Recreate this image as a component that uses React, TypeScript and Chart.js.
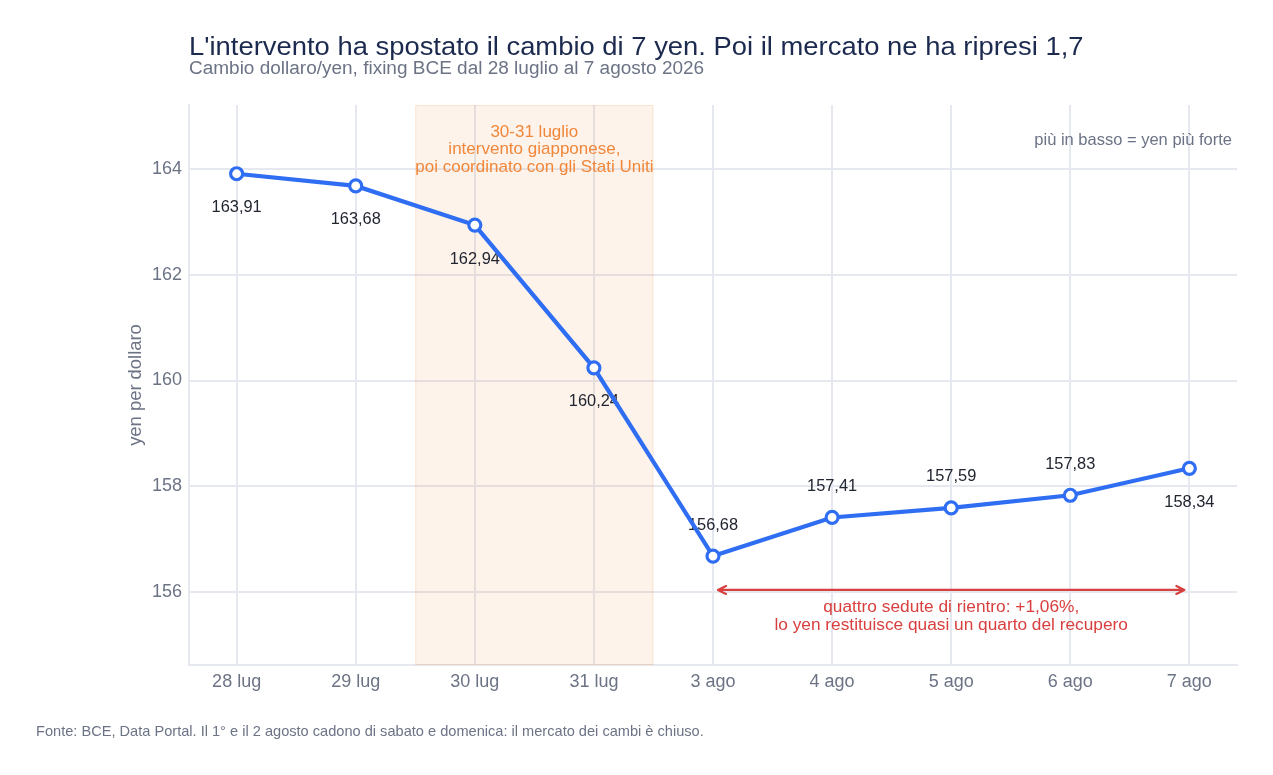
import { useEffect, useRef } from "react";
import { Chart, registerables } from "chart.js";

Chart.register(...registerables);

const W = 1273;
const H = 775;

const labels = ["28 lug", "29 lug", "30 lug", "31 lug", "3 ago", "4 ago", "5 ago", "6 ago", "7 ago"];
const values = [163.91, 163.68, 162.94, 160.24, 156.68, 157.41, 157.59, 157.83, 158.34];
const labelAbove = [false, false, false, false, true, true, true, true, false];
const yTicks = [156, 158, 160, 162, 164];

const TITLE = "L'intervento ha spostato il cambio di 7 yen. Poi il mercato ne ha ripresi 1,7";
const SUBTITLE = "Cambio dollaro/yen, fixing BCE dal 28 luglio al 7 agosto 2026";
const FOOTNOTE = "Fonte: BCE, Data Portal. Il 1° e il 2 agosto cadono di sabato e domenica: il mercato dei cambi è chiuso.";
const BAND_TEXT = ["30-31 luglio", "intervento giapponese,", "poi coordinato con gli Stati Uniti"];
const ARROW_TEXT = ["quattro sedute di rientro: +1,06%,", "lo yen restituisce quasi un quarto del recupero"];
const CORNER_NOTE = "più in basso = yen più forte";

const FONT = "'Liberation Sans', Arial, Helvetica, sans-serif";
const BLUE = "#2f6ef2";
const ORANGE = "#f0873a";
const RED = "#d8403f";
const GRID = "#e6e8f0";
const MUTED = "#6b7385";

// text a bit wider than Liberation Sans at the same height
function wideText(ctx: CanvasRenderingContext2D, text: string, x: number, y: number, size: number, sx: number) {
  ctx.save();
  ctx.translate(x, y);
  ctx.scale(sx, 1);
  ctx.font = `${size}px ${FONT}`;
  ctx.fillText(text, 0, 0);
  ctx.restore();
}

const overlay = {
  id: "overlay",
  beforeDatasetsDraw(chart: Chart) {
    const { ctx, chartArea } = chart;
    const x = chart.scales.x;
    // intervention band 30-31 luglio
    const x0 = x.getPixelForValue(1.5);
    const x1 = x.getPixelForValue(3.5);
    ctx.save();
    ctx.fillStyle = "rgba(240,135,58,0.10)";
    ctx.fillRect(x0, chartArea.top, x1 - x0, chartArea.bottom - chartArea.top);
    ctx.strokeStyle = "rgba(240,135,58,0.16)";
    ctx.lineWidth = 1;
    ctx.strokeRect(x0 + 0.5, chartArea.top + 0.5, x1 - x0 - 1, chartArea.bottom - chartArea.top - 1);

    // data labels sit under the line
    const meta = chart.getDatasetMeta(0);
    ctx.textAlign = "center";
    ctx.textBaseline = "middle";
    ctx.font = `16.4px ${FONT}`;
    ctx.fillStyle = "#222631";
    meta.data.forEach((pt, i) => {
      const dy = labelAbove[i] ? -31 : 34;
      ctx.fillText(values[i].toFixed(2).replace(".", ","), pt.x, pt.y + dy);
    });
    ctx.restore();
  },
  afterDraw(chart: Chart) {
    const { ctx, chartArea } = chart;
    const x = chart.scales.x;
    const y = chart.scales.y;
    ctx.save();

    // title block
    ctx.textBaseline = "alphabetic";
    ctx.textAlign = "left";
    ctx.fillStyle = "#1c2a4f";
    wideText(ctx, TITLE, 189, 54.5, 25.8, 1.062);
    ctx.fillStyle = MUTED;
    wideText(ctx, SUBTITLE, 189, 73.5, 18, 1.055);
    ctx.font = `14.6px ${FONT}`;
    ctx.fillText(FOOTNOTE, 36, 736);

    // y axis title
    ctx.save();
    ctx.translate(136, (chartArea.top + chartArea.bottom) / 2);
    ctx.rotate(-Math.PI / 2);
    ctx.textAlign = "center";
    ctx.textBaseline = "middle";
    ctx.font = `18.4px ${FONT}`;
    ctx.fillStyle = MUTED;
    ctx.fillText("yen per dollaro", 0, 0);
    ctx.restore();

    // corner note
    ctx.textAlign = "right";
    ctx.textBaseline = "middle";
    ctx.font = `16.5px ${FONT}`;
    ctx.fillStyle = MUTED;
    ctx.fillText(CORNER_NOTE, chartArea.right - 5, 140);

    // band text
    ctx.textAlign = "center";
    ctx.fillStyle = ORANGE;
    ctx.font = `17px ${FONT}`;
    const bx = (x.getPixelForValue(1.5) + x.getPixelForValue(3.5)) / 2;
    BAND_TEXT.forEach((t, i) => ctx.fillText(t, bx, 132 + i * 17.5));

    // arrow 3 ago -> 7 ago
    const ay = y.getPixelForValue(156.04);
    const ax0 = x.getPixelForValue(4) + 5;
    const ax1 = x.getPixelForValue(8) - 5;
    ctx.strokeStyle = RED;
    ctx.lineWidth = 2.2;
    ctx.lineJoin = "round";
    ctx.lineCap = "round";
    ctx.beginPath();
    ctx.moveTo(ax0, ay);
    ctx.lineTo(ax1, ay);
    ctx.moveTo(ax0 + 8, ay - 4);
    ctx.lineTo(ax0, ay);
    ctx.lineTo(ax0 + 8, ay + 4);
    ctx.moveTo(ax1 - 8, ay - 4);
    ctx.lineTo(ax1, ay);
    ctx.lineTo(ax1 - 8, ay + 4);
    ctx.stroke();
    ctx.fillStyle = RED;
    ctx.font = `17.3px ${FONT}`;
    const tx = (ax0 + ax1) / 2;
    ARROW_TEXT.forEach((t, i) => ctx.fillText(t, tx, ay + 17 + i * 18));

    ctx.restore();
  },
};

export default function App() {
  const canvasRef = useRef<HTMLCanvasElement>(null);

  useEffect(() => {
    document.body.style.margin = "0";
    const canvas = canvasRef.current;
    if (!canvas) return;
    const chart = new Chart(canvas, {
      type: "line",
      data: {
        datasets: [
          {
            data: values.map((v, i) => ({ x: i, y: v })),
            borderColor: BLUE,
            borderWidth: 4.2,
            pointRadius: 6,
            pointBorderWidth: 3.2,
            pointBackgroundColor: "#ffffff",
            pointBorderColor: BLUE,
            tension: 0,
          },
        ],
      },
      options: {
        animation: false,
        responsive: false,
        maintainAspectRatio: false,
        layout: { padding: { left: 0, right: 36, top: 105, bottom: 0 } },
        plugins: { legend: { display: false }, tooltip: { enabled: false }, title: { display: false } },
        scales: {
          x: {
            type: "linear",
            min: -0.4,
            max: 8.4,
            afterFit: (s: any) => { s.height = 110; },
            afterBuildTicks: (s: any) => { s.ticks = labels.map((_, i) => ({ value: i })); },
            grid: { color: GRID, lineWidth: 2, drawTicks: false },
            border: { color: GRID, width: 2 },
            ticks: {
              padding: 6,
              color: MUTED,
              font: { family: FONT, size: 18 },
              callback: (v: any) => labels[v] ?? "",
            },
          },
          y: {
            min: 154.62,
            max: 165.21,
            afterFit: (s: any) => { s.width = 189; },
            afterBuildTicks: (s: any) => { s.ticks = yTicks.map((v) => ({ value: v })); },
            grid: { color: GRID, lineWidth: 2, drawTicks: false },
            border: { color: GRID, width: 2 },
            ticks: {
              padding: 7,
              color: MUTED,
              font: { family: FONT, size: 18 },
            },
          },
        },
      },
      plugins: [overlay],
    });
    return () => chart.destroy();
  }, []);

  return (
    <div style={{ width: W, height: H, background: "#fff" }}>
      <canvas ref={canvasRef} width={W} height={H} style={{ width: W, height: H }} />
    </div>
  );
}
